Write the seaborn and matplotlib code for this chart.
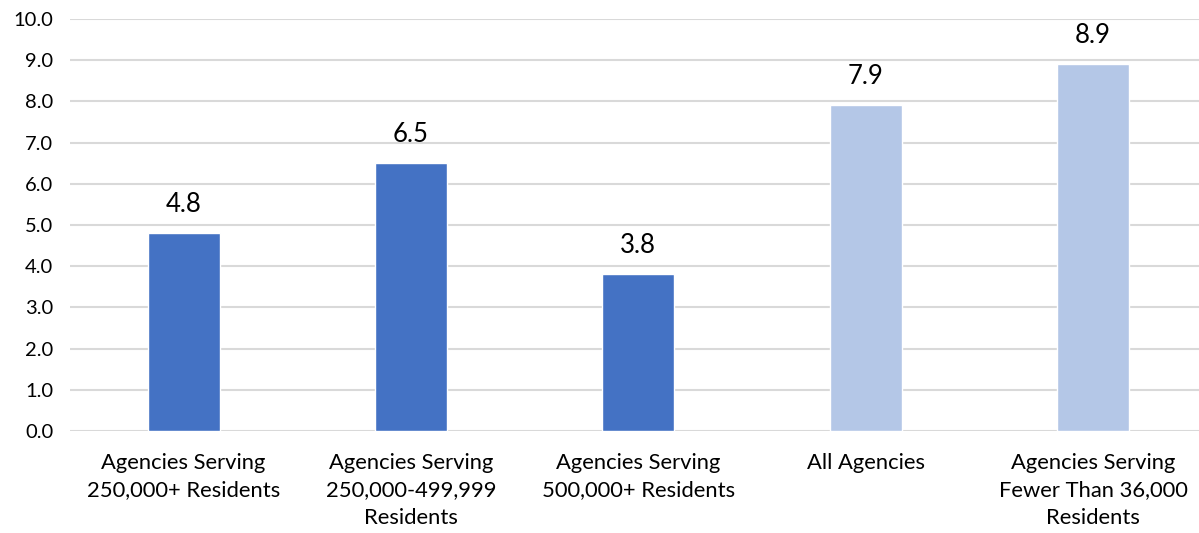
import matplotlib
matplotlib.use("Agg")
import matplotlib.pyplot as plt
import seaborn as sns
import pandas as pd

categories = [
    "Agencies Serving\n250,000+ Residents",
    "Agencies Serving\n250,000-499,999\nResidents",
    "Agencies Serving\n500,000+ Residents",
    "All Agencies",
    "Agencies Serving\nFewer Than 36,000\nResidents",
]
values = [4.8, 6.5, 3.8, 7.9, 8.9]
groups = ["large", "large", "large", "other", "other"]
y_ticks = [0, 1, 2, 3, 4, 5, 6, 7, 8, 9, 10]

palette = {"large": "#4472C4", "other": "#B4C7E7"}

sns.set_theme(style="white")
plt.rcParams["font.family"] = ["Lato", "DejaVu Sans"]

df = pd.DataFrame({"category": categories, "value": values, "group": groups})

fig = plt.figure(figsize=(11.99, 5.33), dpi=100)
ax = fig.add_axes([0.0584, 0.1914, 0.948, 0.773])

sns.barplot(data=df, x="category", y="value", hue="group", palette=palette,
            dodge=False, width=0.317, legend=False, ax=ax, saturation=1)

ax.set_ylim(0, 10)
ax.set_xlim(-0.5, 4.5)
ax.set_yticks(y_ticks)
ax.set_yticklabels([f"{t:.1f}" for t in y_ticks], fontsize=14.5, color="#000000")
ax.tick_params(axis="x", labelsize=15.8, colors="#000000", length=0, pad=16)
for lbl in ax.get_xticklabels():
    lbl.set_linespacing(1.45)
ax.tick_params(axis="y", length=0, pad=12)
ax.set_xlabel("")
ax.set_ylabel("")
ax.grid(axis="y", color="#D9D9D9", linewidth=1.5)
ax.set_axisbelow(True)
for s in ax.spines.values():
    s.set_visible(False)

for i, v in enumerate(values):
    ax.annotate(f"{v:.1f}", (i, v), xytext=(0, 12), textcoords="offset points",
                ha="center", va="bottom", fontsize=18.5, color="#000000")

fig.savefig("out.png", dpi=100, facecolor="white")
